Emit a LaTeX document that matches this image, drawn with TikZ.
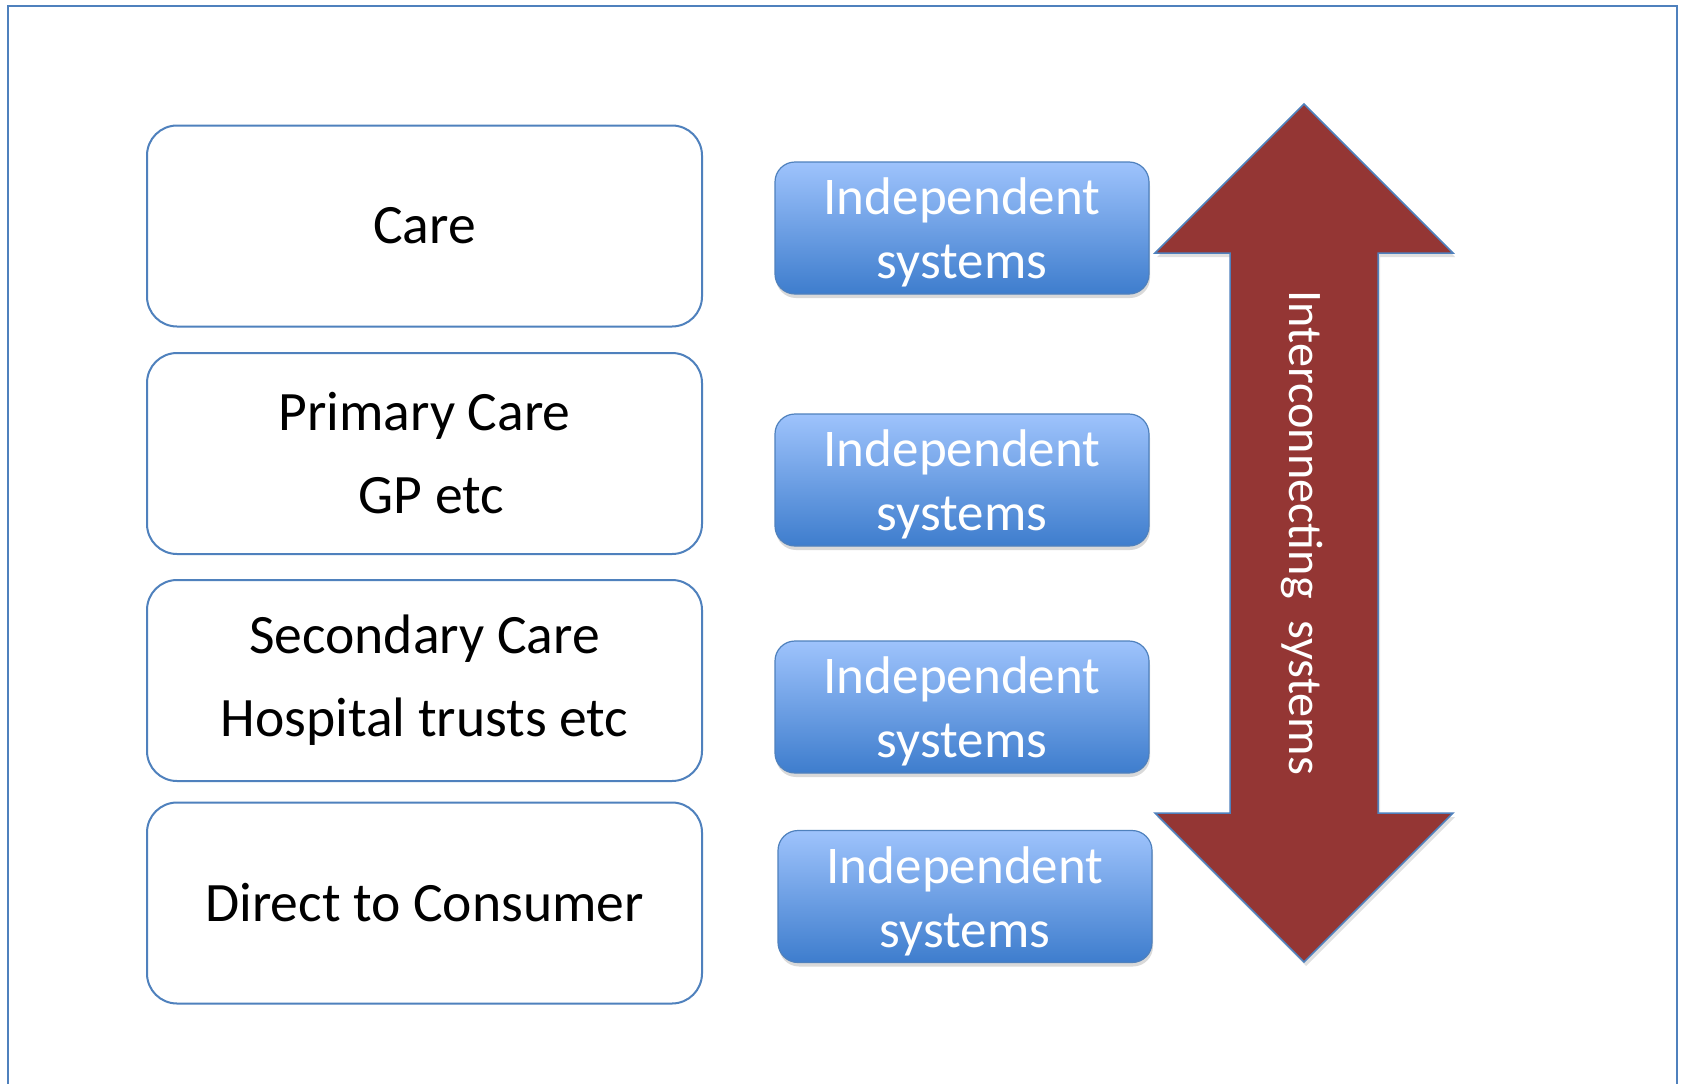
\documentclass[tikz,border=0pt]{standalone}
\usepackage{fontspec}
\setmainfont{Carlito}
\usetikzlibrary{shadows}
\definecolor{boxblue}{RGB}{79,129,189}
\definecolor{systop}{RGB}{158,195,252}
\definecolor{sysbot}{RGB}{62,125,205}
\definecolor{arrowred}{RGB}{148,54,52}
\begin{document}
\begin{tikzpicture}[x=1pt,y=-1pt,
  carebox/.style={draw=boxblue, line width=2pt, rounded corners=30pt, fill=white,
    align=center, font=\fontsize{55.6}{83}\selectfont, minimum width=555pt,
    minimum height=201pt, inner sep=0pt},
  sysbox/.style={draw=boxblue, line width=1.2pt, rounded corners=20pt,
    top color=systop, bottom color=sysbot, minimum width=374pt, minimum height=132pt,
    inner sep=0pt, drop shadow={shadow xshift=1pt, shadow yshift=-4pt, opacity=0.15, fill=black}},
  systext/.style={text=white, align=center, font=\fontsize{53}{64}\selectfont, inner sep=0pt},
  arrowlabel/.style={text=white, font=\fontsize{48.2}{56}\selectfont, rotate=-90, inner sep=0pt}]
\useasboundingbox (0,0) rectangle (1681,1084);
\clip (0,0) rectangle (1681,1084);
\fill[white] (0,0) rectangle (1681,1084);
% frame
\draw[boxblue, line width=2.2pt] (8,1100) -- (8,6) -- (1677,6) -- (1677,1100);
% left boxes
\node[carebox] (care) at (424.5,226) {Care};
\node[carebox] (primary) at (424.5,453.5) {Primary Care\\\hspace*{0.25em}GP etc};
\node[carebox] (secondary) at (424.5,680.5) {Secondary Care\\Hospital trusts etc};
\node[carebox] (direct) at (424.5,903) {Direct to Consumer};
% independent systems
\node[sysbox] (s1) at (962,228) {};
\node[sysbox] (s2) at (962,480) {};
\node[sysbox] (s3) at (962,707) {};
\node[sysbox] (s4) at (965,896.5) {};
\node[systext] (t1) at ([yshift=-4.5pt]s1.center) {Independent\\systems};
\node[systext] (t2) at ([yshift=-4.5pt]s2.center) {Independent\\systems};
\node[systext] (t3) at ([yshift=-4.5pt]s3.center) {Independent\\systems};
\node[systext] (t4) at ([yshift=-4.5pt]s4.center) {Independent\\systems};
% double arrow
\fill[black, opacity=0.12] (1306,108) -- (1455,257) -- (1380,257) -- (1380,817) -- (1455,817) -- (1306,966) -- (1157,817) -- (1232,817) -- (1232,257) -- (1157,257) -- cycle;
\draw[boxblue, line width=1.5pt, fill=arrowred, line join=miter]
  (1304,104) -- (1453,253) -- (1378,253) -- (1378,813) -- (1453,813) -- (1304,962)
  -- (1155,813) -- (1230,813) -- (1230,253) -- (1155,253) -- cycle;
\node[arrowlabel] (inter) at (1302,533) {Interconnecting\ \ systems};
\end{tikzpicture}
\end{document}
